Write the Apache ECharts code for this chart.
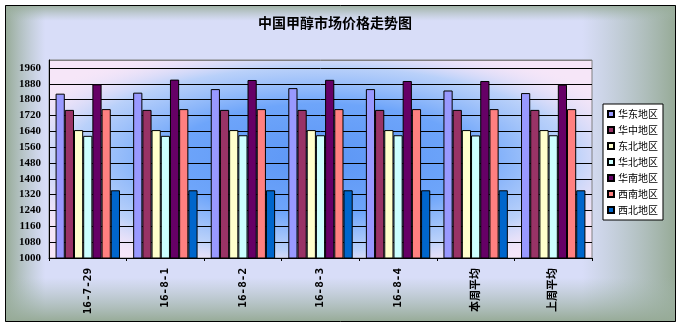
<!DOCTYPE html>
<html>
<head>
<meta charset="utf-8">
<script src="https://cdn.jsdelivr.net/npm/echarts@6/dist/echarts.min.js"></script>
<style>
  html, body { margin: 0; padding: 0; background: #ffffff; }
  #chart { width: 681px; height: 328px; }
</style>
</head>
<body>
<div id="chart"></div>
<script>
// 中国甲醇市场价格走势图 — regional methanol prices (元/吨)
const categories = ['16-7-29', '16-8-1', '16-8-2', '16-8-3', '16-8-4', '本周平均', '上周平均'];
const seriesNames = ['华东地区', '华中地区', '东北地区', '华北地区', '华南地区', '西南地区', '西北地区'];

const eastChina      = [1830, 1835, 1853, 1858, 1853, 1846, 1833];
const centralChina   = [1748, 1748, 1748, 1748, 1748, 1748, 1748];
const northeastChina = [1646, 1646, 1646, 1646, 1646, 1646, 1646];
const northChina     = [1617, 1617, 1620, 1620, 1620, 1619, 1620];
const southChina     = [1877, 1901, 1899, 1900, 1894, 1894, 1875];
const southwestChina = [1752, 1752, 1752, 1752, 1752, 1752, 1752];
const northwestChina = [1342, 1342, 1342, 1342, 1342, 1342, 1342];

const yTicks = { min: 1000, max: 2000, step: 80 };

const seriesValues = [eastChina, centralChina, northeastChina, northChina, southChina, southwestChina, northwestChina];
const seriesColors = ['#9999ff', '#993366', '#ffffcc', '#ccffff', '#660066', '#ff8080', '#0066cc'];

// plot frame (pixels)
const plot = { left: 49, top: 60, width: 543, height: 198 };

const chart = echarts.init(document.getElementById('chart'), null, { renderer: 'canvas' });

const series = seriesNames.map((name, i) => ({
  name: name,
  type: 'bar',
  data: seriesValues[i],
  barGap: '0%',
  barCategoryGap: '17%',
  itemStyle: {
    color: seriesColors[i],
    borderColor: '#000000',
    borderWidth: 1
  },
  emphasis: { disabled: true }
}));

// gridline colours: black for every value line, grey for the top frame
const tickCount = Math.floor((yTicks.max - yTicks.min) / yTicks.step) + 1;
const splitColors = [];
for (let i = 0; i < tickCount; i++) splitColors.push('#000000');
splitColors.push('#808080');

chart.setOption({
  animation: false,
  graphic: [
    // chart area: greenish grey rim fading to lavender
    {
      type: 'rect', z: -100, silent: true,
      shape: { x: 5, y: 5, width: 671, height: 317 },
      style: { fill: '#d8ddf8', stroke: null }
    },
    {
      type: 'rect', z: -99, silent: true,
      shape: { x: 5, y: 5, width: 671, height: 317 },
      style: {
        fill: {
          type: 'linear', x: 0, y: 0, x2: 1, y2: 0,
          colorStops: [
            { offset: 0, color: 'rgba(150,170,150,1)' },
            { offset: 0.06, color: 'rgba(165,185,175,0)' },
            { offset: 0.86, color: 'rgba(165,185,175,0)' },
            { offset: 1, color: 'rgba(150,170,150,1)' }
          ]
        },
        stroke: null
      }
    },
    {
      type: 'rect', z: -98, silent: true,
      shape: { x: 5, y: 5, width: 671, height: 317 },
      style: {
        fill: {
          type: 'linear', x: 0, y: 0, x2: 0, y2: 1,
          colorStops: [
            { offset: 0, color: 'rgba(150,170,150,0.9)' },
            { offset: 0.05, color: 'rgba(165,185,175,0)' },
            { offset: 0.86, color: 'rgba(165,185,175,0)' },
            { offset: 1, color: 'rgba(150,170,150,1)' }
          ]
        },
        stroke: null
      }
    },
    {
      type: 'rect', z: -97, silent: true,
      shape: { x: 5.5, y: 5.5, width: 670, height: 316 },
      style: { fill: null, stroke: '#000000', lineWidth: 1 }
    },
    // plot area: blue centre fading to pale pink at the frame
    {
      type: 'rect', z: -96, silent: true,
      shape: { x: plot.left, y: plot.top, width: plot.width, height: plot.height },
      style: { fill: '#f6e6f8', stroke: null }
    },
    {
      type: 'rect', z: -95, silent: true,
      x: plot.left, y: plot.top,
      scaleX: plot.width / plot.height, scaleY: 1,
      shape: { x: 0, y: 0, width: plot.height, height: plot.height },
      style: {
        fill: {
          type: 'radial', x: 0.5, y: 0.5, r: 0.62,
          colorStops: [
            { offset: 0, color: 'rgba(92,150,245,1)' },
            { offset: 0.45, color: 'rgba(110,165,250,1)' },
            { offset: 0.75, color: 'rgba(175,205,250,0.85)' },
            { offset: 1, color: 'rgba(246,230,248,0)' }
          ]
        },
        stroke: null
      }
    }
  ],
  title: {
    text: '中国甲醇市场价格走势图',
    left: 253,
    top: 11,
    textStyle: {
      fontFamily: "'Noto Sans CJK SC'",
      fontSize: 14,
      fontWeight: 'bold',
      color: '#000000'
    }
  },
  legend: {
    orient: 'vertical',
    left: 603,
    top: 104,
    padding: [4, 5, 4, 4],
    itemWidth: 6,
    itemHeight: 6,
    itemGap: 4,
    icon: 'rect',
    backgroundColor: '#ffffff',
    borderColor: '#000000',
    borderWidth: 1,
    borderRadius: 0,
    textStyle: {
      fontFamily: "'Noto Sans CJK SC'",
      fontSize: 10,
      lineHeight: 12,
      color: '#000000',
      padding: [0, 0, 0, -1]
    },
    data: seriesNames
  },
  grid: {
    left: plot.left,
    top: plot.top,
    width: plot.width,
    height: plot.height,
    show: true,
    backgroundColor: 'transparent',
    borderColor: '#808080',
    borderWidth: 1
  },
  xAxis: {
    type: 'category',
    data: categories,
    axisLine: { show: true, lineStyle: { color: '#000000', width: 1 } },
    axisTick: { show: true, alignWithLabel: false, length: 3, lineStyle: { color: '#000000' } },
    axisLabel: {
      rotate: 90,
      margin: 10,
      interval: 0,
      fontFamily: "'DejaVu Sans Mono', 'Noto Sans CJK SC'",
      fontSize: 11,
      fontWeight: 'bold',
      color: '#000000'
    },
    splitLine: { show: false }
  },
  yAxis: {
    type: 'value',
    min: yTicks.min,
    max: yTicks.max,
    interval: yTicks.step,
    axisLine: { show: true, lineStyle: { color: '#000000', width: 1 } },
    axisTick: { show: false },
    axisLabel: {
      showMaxLabel: false,
      margin: 8,
      formatter: (v) => String(v),
      fontFamily: "'Liberation Serif'",
      fontSize: 11,
      fontWeight: 'bold',
      color: '#000000'
    },
    splitLine: { show: true, lineStyle: { color: splitColors, width: 1 } }
  },
  series: series
});
</script>
</body>
</html>
